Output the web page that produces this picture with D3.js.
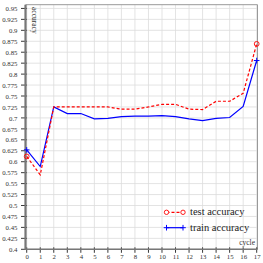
<!DOCTYPE html>
<html><head><meta charset="utf-8">
<script src="https://cdn.jsdelivr.net/npm/d3@7"></script>
<style>body{margin:0;background:#fff}svg{display:block}</style>
</head><body>
<script>
const cycles = [0,1,2,3,4,5,6,7,8,9,10,11,12,13,14,15,16,17];
const testAcc = [0.612,0.570,0.725,0.725,0.725,0.725,0.725,0.720,0.720,0.725,0.731,0.731,0.720,0.719,0.738,0.738,0.756,0.869];
const trainAcc = [0.627,0.589,0.725,0.710,0.710,0.698,0.699,0.703,0.704,0.704,0.705,0.703,0.698,0.694,0.699,0.701,0.726,0.831];
const yTicks = d3.range(0.4, 0.9501, 0.025).map(v => +v.toFixed(3));
const xTicks = cycles;
const seriesNames = ["test accuracy", "train accuracy"];

const W = 263, H = 263;
const L = 25.5, R = 257.5, T = 4.7, B = 249.3;
const font = "'Liberation Serif', 'DejaVu Serif', serif";

const svg = d3.select("body").append("svg").attr("width", W).attr("height", H);
const x = d3.scaleLinear().domain([-0.09, 17.06]).range([L, R]);
const y = d3.scaleLinear().domain([0.4, 0.9585]).range([B, T]);

// grid
const g = svg.append("g");
g.selectAll("line.h").data(yTicks).enter().append("line")
  .attr("x1", L).attr("x2", R).attr("y1", d => y(d)).attr("y2", d => y(d))
  .attr("stroke", "#dcdcdc").attr("stroke-width", 0.8);
g.selectAll("line.v").data(xTicks).enter().append("line")
  .attr("y1", T).attr("y2", B).attr("x1", d => x(d)).attr("x2", d => x(d))
  .attr("stroke", "#dcdcdc").attr("stroke-width", 0.8);

// frame top/right
svg.append("line").attr("x1", L).attr("x2", R).attr("y1", T).attr("y2", T).attr("stroke", "#999").attr("stroke-width", 1);
svg.append("line").attr("x1", R).attr("x2", R).attr("y1", T).attr("y2", B).attr("stroke", "#999").attr("stroke-width", 1);

// axes
const yg = svg.append("g").attr("transform", `translate(${L},0)`).call(d3.axisLeft(y).tickValues(yTicks).tickSize(0).tickPadding(8).tickFormat(d => String(d)));
yg.select(".domain").remove();
yg.selectAll("text").attr("font-family", font).attr("font-size", 6.8).attr("fill", "#333");
svg.selectAll("line.yt").data(yTicks).enter().append("line")
  .attr("x1", L - 4.5).attr("x2", L + 1.5).attr("y1", d => y(d)).attr("y2", d => y(d))
  .attr("stroke", "#222").attr("stroke-width", 0.9);

const xg = svg.append("g").attr("transform", `translate(0,${B})`).call(d3.axisBottom(x).tickValues(xTicks).tickSize(0).tickPadding(5).tickFormat(d3.format("d")));
xg.select(".domain").remove();
xg.selectAll("text").attr("font-family", font).attr("font-size", 6.8).attr("fill", "#333");
svg.selectAll("line.xt").data(xTicks).enter().append("line")
  .attr("y1", B - 2).attr("y2", B + 3.5).attr("x1", d => x(d)).attr("x2", d => x(d))
  .attr("stroke", "#222").attr("stroke-width", 0.9);

svg.append("line").attr("x1", L).attr("x2", L).attr("y1", T).attr("y2", B + 0.5).attr("stroke", "#777").attr("stroke-width", 2.2);
svg.append("line").attr("x1", L - 0.5).attr("x2", R).attr("y1", B).attr("y2", B).attr("stroke", "#777").attr("stroke-width", 1.6);

// axis labels
svg.append("text").attr("transform", `translate(${L + 6},7) rotate(90)`)
  .attr("font-family", font).attr("font-size", 7.5).attr("fill", "#333").text("accuracy");
svg.append("text").attr("x", R - 2.5).attr("y", 244.5).attr("text-anchor", "end")
  .attr("font-family", font).attr("font-size", 7.5).attr("fill", "#333").text("cycle");

// lines
const line = d3.line().x((d, i) => x(cycles[i])).y(d => y(d));
svg.append("path").datum(trainAcc).attr("d", line).attr("fill", "none").attr("stroke", "#0000ff").attr("stroke-width", 1.2);
svg.append("path").datum(testAcc).attr("d", line).attr("fill", "none").attr("stroke", "#ff0000").attr("stroke-width", 1.2).attr("stroke-dasharray", "3,2");

const ends = [0, cycles.length - 1];
function plusMark(sel, cx, cy) {
  sel.append("path").attr("d", `M${cx-2.8},${cy}H${cx+2.8}M${cx},${cy-2.8}V${cy+2.8}`).attr("stroke", "#0000ff").attr("stroke-width", 1);
}
ends.forEach(i => {
  svg.append("circle").attr("cx", x(cycles[i])).attr("cy", y(testAcc[i])).attr("r", 2.4)
    .attr("fill", "none").attr("stroke", "#ff0000").attr("stroke-width", 0.9);
  plusMark(svg, x(cycles[i]), y(trainAcc[i]));
});

// legend
const lg = svg.append("g");
const ly1 = 212.3, ly2 = 227.7, lx1 = 166.5, lx2 = 183;
lg.append("line").attr("x1", lx1).attr("x2", lx2).attr("y1", ly1).attr("y2", ly1).attr("stroke", "#ff0000").attr("stroke-width", 1.2).attr("stroke-dasharray", "3,2");
[lx1, lx2].forEach(cx => lg.append("circle").attr("cx", cx).attr("cy", ly1).attr("r", 2.2).attr("fill", "#fff").attr("stroke", "#ff0000").attr("stroke-width", 0.9));
lg.append("line").attr("x1", lx1).attr("x2", lx2).attr("y1", ly2).attr("y2", ly2).attr("stroke", "#0000ff").attr("stroke-width", 1.2);
[lx1, lx2].forEach(cx => plusMark(lg, cx, ly2));
lg.append("text").attr("x", 190).attr("y", ly1 + 3).attr("font-family", font).attr("font-size", 10.5).attr("fill", "#222").text(seriesNames[0]);
lg.append("text").attr("x", 190).attr("y", ly2 + 3).attr("font-family", font).attr("font-size", 10.5).attr("fill", "#222").text(seriesNames[1]);
</script>
</body></html>
